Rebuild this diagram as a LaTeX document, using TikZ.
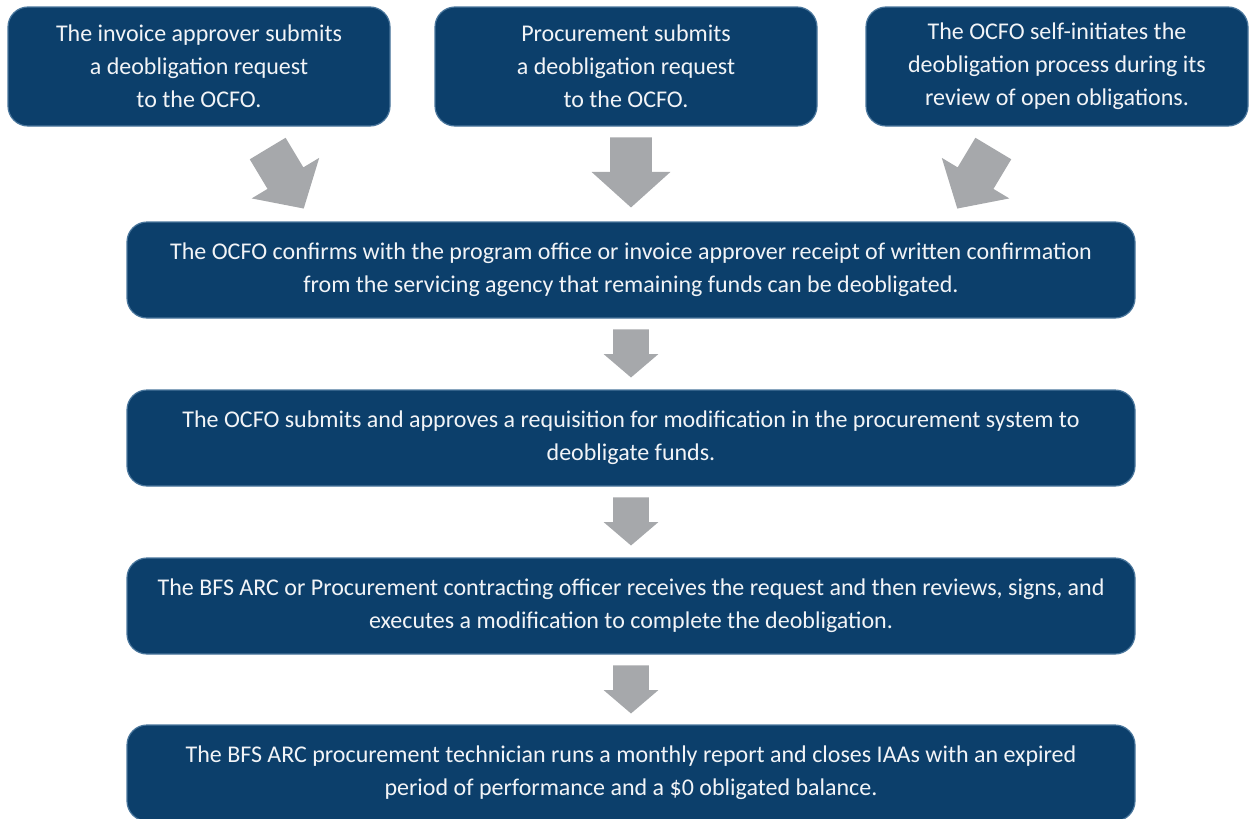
\documentclass[tikz,border=0pt]{standalone}
\usepackage{fontspec}
\setmainfont{Carlito}
\usepackage{tikz}
\usetikzlibrary{shapes.arrows}
\usetikzlibrary{positioning}
\definecolor{box-fill}{HTML}{0C3F6B}
\definecolor{box-edge}{HTML}{4A769C}
\definecolor{box-text}{HTML}{F2F4F7}
\definecolor{arrow-gray}{HTML}{A6A8AB}

\begin{document}
\begin{tikzpicture}[x=0.5pt, y=-0.5pt,
    box/.style={rounded corners=10pt, fill=box-fill, draw=box-edge, line width=0.6pt,
        text=box-text, align=center, inner sep=0pt,
        font=\fontsize{12}{16.5}\selectfont},
    topbox/.style={box, minimum width=191pt, minimum height=59.5pt},
    flowbox/.style={box, minimum width=504pt, minimum height=48pt},
    bigarrow/.style={single arrow, fill=arrow-gray, inner xsep=0pt, inner ysep=10.25pt,
        anchor=tip, minimum height=35pt,
        single arrow head extend=9.25pt, single arrow tip angle=96},
    smallarrow/.style={bigarrow, inner ysep=8.75pt, minimum height=24pt,
        single arrow head extend=4.75pt, single arrow tip angle=99}]
    \useasboundingbox (0,0) rectangle (1253,819);

    % Three ways a deobligation starts
    \node[topbox] (approver) at (199,66.5) {The invoice approver submits\\a deobligation request\\to the OCFO.};
    \node[topbox] (procure) at (626,66.5) {Procurement submits\\a deobligation request\\to the OCFO.};
    \node[topbox] (selfinit) at (1057,66.5) {The OCFO self-initiates the\\deobligation process during its\\review of open obligations.};

    % Main steps
    \node[flowbox] (confirm) at (631,270) {The OCFO confirms with the program office or invoice approver receipt of written confirmation\\from the servicing agency that remaining funds can be deobligated.};
    \node[flowbox] (requis) at (631,438) {The OCFO submits and approves a requisition for modification in the procurement system to\\deobligate funds.};
    \node[flowbox] (modify) at (631,606) {The BFS ARC or Procurement contracting officer receives the request and then reviews, signs, and\\executes a modification to complete the deobligation.};
    \node[flowbox] (closeout) at (631,773) {The BFS ARC procurement technician runs a monthly report and closes IAAs with an expired\\period of performance and a \$0 obligated balance.};

    % Block arrows
    \node[bigarrow, rotate=-59] (arrApprover) at (304,209) {};
    \node[bigarrow, rotate=-90] (arrProcure) at (631,208) {};
    \node[bigarrow, rotate=-121] (arrSelf) at (957,209) {};
    \foreach \y/\n in {378/1, 546/2, 714/3} {
        \node[smallarrow, rotate=-90] (step\n) at (631,\y) {};
    }
\end{tikzpicture}
\end{document}
